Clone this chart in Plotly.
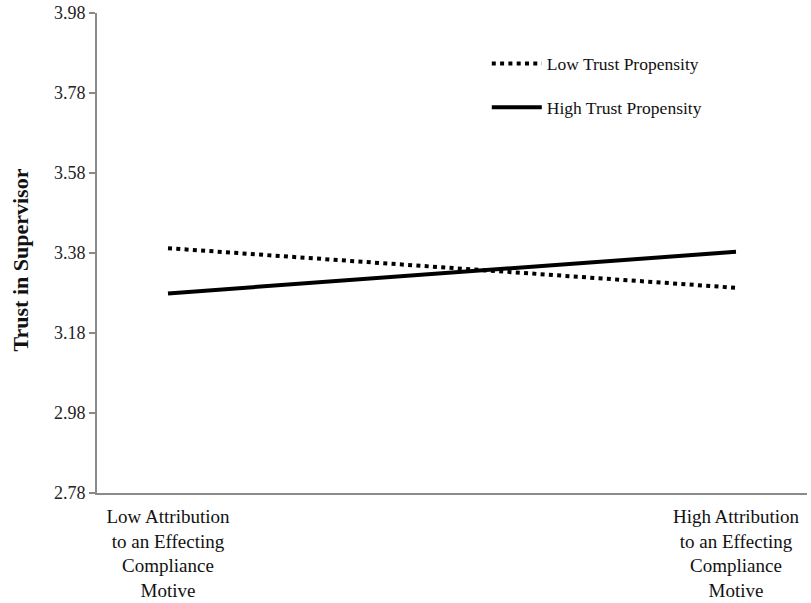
import plotly.graph_objects as go

# Data
categories = ["Low Attribution<br>to an Effecting<br>Compliance<br>Motive",
              "High Attribution<br>to an Effecting<br>Compliance<br>Motive"]
x_pos = [0, 1]
low_trust = [3.392, 3.293]
high_trust = [3.279, 3.383]
y_ticks = [2.78, 2.98, 3.18, 3.38, 3.58, 3.78, 3.98]

FONT = "Liberation Serif, Times New Roman, serif"

fig = go.Figure()
fig.add_trace(go.Scatter(
    x=x_pos, y=low_trust, mode="lines", name="Low Trust Propensity",
    line=dict(color="black", width=4, dash="4px,4.3px"),
    legendgroup="a"))
fig.add_trace(go.Scatter(
    x=x_pos, y=high_trust, mode="lines", name="High Trust Propensity",
    line=dict(color="black", width=4),
    legendgroup="b"))

fig.update_layout(
    width=811, height=603,
    margin=dict(l=97, r=4, t=13, b=110, autoexpand=False),
    paper_bgcolor="white", plot_bgcolor="white",
    font=dict(family=FONT, color="#111"),
    showlegend=True,
    legend=dict(x=0.549, y=0.932, xanchor="left", yanchor="top",
                font=dict(size=17.5, family=FONT, color="#111"),
                itemwidth=50,
                bgcolor="rgba(0,0,0,0)", tracegroupgap=18),
    xaxis=dict(range=[-0.125, 1.125], tickmode="array", tickvals=x_pos,
               ticktext=categories, showline=True, linecolor="#8a8a8a",
               linewidth=2, showgrid=False, zeroline=False, automargin=False,
               ticks="outside", ticklen=5, tickcolor="rgba(0,0,0,0)",
               tickfont=dict(size=19, family=FONT, color="#111")),
    yaxis=dict(range=[2.78, 3.98], tickmode="array", tickvals=y_ticks,
               ticktext=[f"{v:.2f}" for v in y_ticks],
               showline=True, linecolor="#8a8a8a", linewidth=2,
               showgrid=False, zeroline=False, ticks="outside", ticklen=6,
               tickcolor="#8a8a8a", tickwidth=2, automargin=False,
               tickfont=dict(size=18, family=FONT, color="#222")),
    annotations=[dict(text="<b>Trust in Supervisor</b>", xref="paper", yref="paper",
                      x=-0.108, y=0.485, xanchor="center", yanchor="middle",
                      textangle=-90, showarrow=False,
                      font=dict(size=22, family=FONT, color="#111"))],
)

fig.write_html("out.html")
